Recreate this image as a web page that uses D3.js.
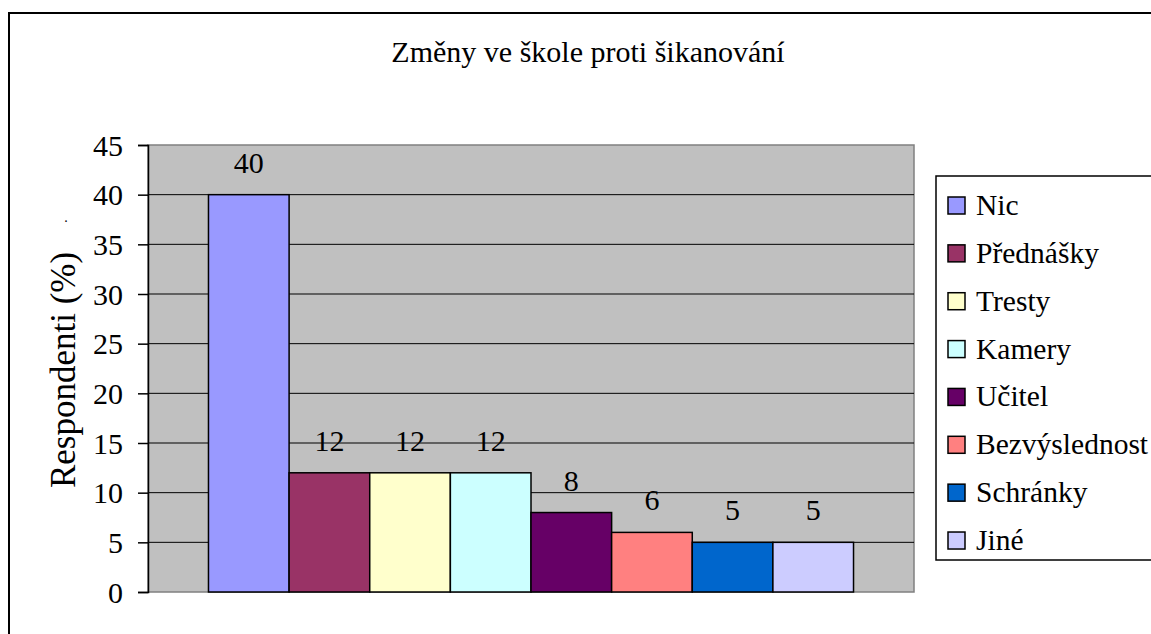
<!DOCTYPE html>
<html>
<head>
<meta charset="utf-8">
<script src="https://cdn.jsdelivr.net/npm/d3@7"></script>
<style>
  body { margin: 0; background: #fff; }
  svg { display: block; }
</style>
</head>
<body>
<svg id="chart" width="1151" height="634" font-family="Liberation Serif, Times New Roman, serif"></svg>
<script>
// data
var category = ["Změny"];
var seriesNames = ["Nic", "Přednášky", "Tresty", "Kamery", "Učitel", "Bezvýslednost", "Schránky", "Jiné"];
var seriesValues = [40, 12, 12, 12, 8, 6, 5, 5];
var seriesColors = ["#9999FF", "#993366", "#FFFFCC", "#CCFFFF", "#660066", "#FF8080", "#0066CC", "#CCCCFF"];
var yTicks = [0, 5, 10, 15, 20, 25, 30, 35, 40, 45];

var titleText = "Změny ve škole proti šikanování";
var yLabel = "Respondenti (%)";

var serif = "Liberation Serif, Times New Roman, serif";
var svg = d3.select("#chart");

// outer chart border (right/bottom fall outside the picture)
svg.append("rect")
    .attr("x", 9).attr("y", 13)
    .attr("width", 1200).attr("height", 700)
    .attr("fill", "none")
    .attr("stroke", "#000")
    .attr("stroke-width", 2);

var plot = {left: 148, top: 145, right: 914, bottom: 592};

var y = d3.scaleLinear()
    .domain([0, 45])
    .range([plot.bottom, plot.top]);

// excel gap width 150%
var gapWidth = 1.5;
var x0 = d3.scaleBand()
    .domain(category)
    .range([plot.left, plot.right])
    .paddingInner(0)
    .paddingOuter((gapWidth / 2) / seriesNames.length);

var x1 = d3.scaleBand()
    .domain(seriesNames)
    .range([0, x0.bandwidth()]);

// plot area
svg.append("rect")
    .attr("x", plot.left).attr("y", plot.top)
    .attr("width", plot.right - plot.left)
    .attr("height", plot.bottom - plot.top)
    .attr("fill", "#C0C0C0")
    .attr("stroke", "#808080")
    .attr("stroke-width", 1.5);

// gridlines
svg.append("g")
    .selectAll("line")
    .data(yTicks.filter(d => d > 0 && d < 45))
    .join("line")
    .attr("x1", plot.left).attr("x2", plot.right)
    .attr("y1", d => y(d)).attr("y2", d => y(d))
    .attr("stroke", "#000")
    .attr("stroke-width", 1);

// y axis
var yAxis = d3.axisLeft(y)
    .tickValues(yTicks)
    .tickSize(10)
    .tickPadding(15);

var ga = svg.append("g")
    .attr("transform", `translate(${plot.left},0)`)
    .call(yAxis)
    .attr("font-family", serif);
ga.select(".domain").attr("stroke", "#000").attr("stroke-width", 1.5);
ga.selectAll(".tick line").attr("stroke", "#000").attr("stroke-width", 1.5);
ga.selectAll(".tick text")
    .attr("font-family", serif)
    .attr("font-size", 30)
    .attr("fill", "#000")
    .attr("dy", "0.34em");

// bars
var bars = svg.append("g")
    .attr("transform", `translate(${x0(category[0])},0)`);

bars.selectAll("rect")
    .data(seriesNames)
    .join("rect")
    .attr("x", d => x1(d))
    .attr("y", (d, i) => y(seriesValues[i]))
    .attr("width", x1.bandwidth())
    .attr("height", (d, i) => y(0) - y(seriesValues[i]))
    .attr("fill", (d, i) => seriesColors[i])
    .attr("stroke", "#000")
    .attr("stroke-width", 1.5);

bars.selectAll("text")
    .data(seriesNames)
    .join("text")
    .attr("x", d => x1(d) + x1.bandwidth() / 2)
    .attr("y", (d, i) => y(seriesValues[i]) - 22)
    .attr("text-anchor", "middle")
    .attr("font-family", serif)
    .attr("font-size", 30)
    .attr("fill", "#000")
    .text((d, i) => seriesValues[i]);

// title
svg.append("text")
    .attr("x", 588).attr("y", 62)
    .attr("text-anchor", "middle")
    .attr("font-family", serif)
    .attr("font-size", 30)
    .attr("fill", "#000")
    .text(titleText);

// y label
svg.append("text")
    .attr("transform", "translate(75,370) rotate(-90)")
    .attr("text-anchor", "middle")
    .attr("font-family", serif)
    .attr("font-size", 35)
    .attr("fill", "#000")
    .text(yLabel);

// stray dot next to the axis label
svg.append("text")
    .attr("x", 66).attr("y", 222)
    .attr("text-anchor", "middle")
    .attr("font-family", serif)
    .attr("font-size", 14)
    .text(".");

// legend
var legend = svg.append("g");
legend.append("rect")
    .attr("x", 936).attr("y", 176)
    .attr("width", 300).attr("height", 384)
    .attr("fill", "#fff")
    .attr("stroke", "#000")
    .attr("stroke-width", 1.5);

var items = legend.selectAll("g.item")
    .data(seriesNames)
    .join("g")
    .attr("class", "item")
    .attr("transform", (d, i) => `translate(0,${215 + i * 47.86})`);

items.append("rect")
    .attr("x", 948).attr("y", -18)
    .attr("width", 17).attr("height", 17)
    .attr("fill", (d, i) => seriesColors[i])
    .attr("stroke", "#000")
    .attr("stroke-width", 1.5);

items.append("text")
    .attr("x", 976).attr("y", 0)
    .attr("font-family", serif)
    .attr("font-size", 29.5)
    .attr("fill", "#000")
    .text(d => d);
</script>
</body>
</html>
